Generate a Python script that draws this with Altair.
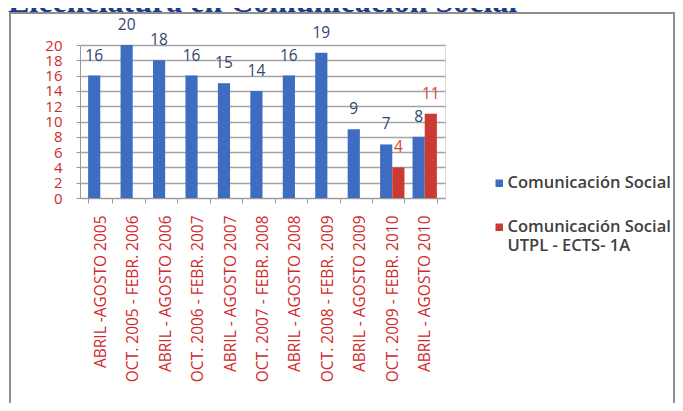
import altair as alt
import pandas as pd

title_text = ["Licenciatura en Comunicación Social"]
periods = [
    "ABRIL -AGOSTO 2005",
    "OCT. 2005 - FEBR. 2006",
    "ABRIL - AGOSTO 2006",
    "OCT. 2006 - FEBR. 2007",
    "ABRIL - AGOSTO 2007",
    "OCT. 2007 - FEBR. 2008",
    "ABRIL - AGOSTO 2008",
    "OCT. 2008 - FEBR. 2009",
    "ABRIL - AGOSTO 2009",
    "OCT. 2009 - FEBR. 2010",
    "ABRIL - AGOSTO 2010",
]
series_names = ["Comunicación Social", "Comunicación Social UTPL - ECTS- 1A"]
blue_values = [16, 20, 18, 16, 15, 14, 16, 19, 9, 7, 8]
red_values = [0, 0, 0, 0, 0, 0, 0, 0, 0, 4, 11]
y_ticks = list(range(0, 21, 2))

rows = []
for p, b, r in zip(periods, blue_values, red_values):
    rows.append({"periodo": p, "serie": series_names[0], "valor": b})
    rows.append({"periodo": p, "serie": series_names[1], "valor": r})
df = pd.DataFrame(rows)

BLUE = "#3d6cc0"
RED = "#cc3a33"
AXIS_RED = "#cf2b2b"
FONT = "Open Sans"

x_enc = alt.X(
    "periodo:N",
    sort=periods,
    scale=alt.Scale(paddingInner=0.25, paddingOuter=0.25),
    axis=alt.Axis(
        title=None,
        labelAngle=270,
        labelAlign="right",
        labelBaseline="middle",
        labelColor=AXIS_RED,
        labelFont=FONT,
        labelFontSize=15.5,
        labelPadding=12,
        labelLimit=300,
        tickColor="#9a9a9a",
        tickSize=5,
        tickBand="extent",
        domainColor="#9a9a9a",
        grid=False,
    ),
)
y_enc = alt.Y(
    "valor:Q",
    scale=alt.Scale(domain=[0, 20], nice=False),
    axis=alt.Axis(
        title=None,
        values=y_ticks,
        tickCount=11,
        labelColor=AXIS_RED,
        labelFont=FONT,
        labelFontSize=15,
        labelPadding=14,
        labelOverlap=False,
        labelFlush=False,
        tickColor="#9a9a9a",
        tickSize=4,
        domainColor="#9a9a9a",
        gridColor="#a3a3a3",
        gridWidth=1.5,
    ),
)
color_enc = alt.Color(
    "serie:N",
    scale=alt.Scale(domain=series_names, range=[BLUE, RED]),
    legend=alt.Legend(
        title=None,
        orient="none",
        legendX=407,
        legendY=130,
        symbolType="square",
        symbolSize=56,
        symbolStrokeWidth=0,
        symbolOffset=4,
        labelFont=FONT,
        labelFontSize=16.5,
        labelFontWeight=600,
        labelColor="#404040",
        labelLimit=300,
        labelOffset=0,
        rowPadding=27,
        labelExpr="indexof(datum.label, 'UTPL') > 0 ? ['Comunicación Social', 'UTPL - ECTS- 1A'] : datum.label",
    ),
)

bars = alt.Chart(df).mark_bar().encode(
    x=x_enc,
    xOffset=alt.XOffset("serie:N", sort=series_names),
    y=y_enc,
    color=color_enc,
)

labels = alt.Chart(df).transform_filter("datum.valor > 0").mark_text(
    dy=-20, font=FONT, fontSize=15.5
).encode(
    x=x_enc,
    xOffset=alt.XOffset("serie:N", sort=series_names),
    y=y_enc,
    text="valor:Q",
    color=alt.Color(
        "serie:N",
        scale=alt.Scale(domain=series_names, range=["#31466f", "#e0403a"]),
        legend=None,
    ),
)

frame = alt.Chart(pd.DataFrame({"f": [0]})).mark_rect(
    fill=None, stroke="#8e8e8e", strokeWidth=2
).encode(
    x=alt.value(-70),
    x2=alt.value(594),
    y=alt.value(-32),
    y2=alt.value(400),
)

title = alt.Chart(pd.DataFrame({"t": title_text})).mark_text(
    align="left",
    baseline="alphabetic",
    font="Liberation Serif",
    fontSize=32,
    fontWeight="bold",
    color="#1f3c88",
).encode(
    text="t:N",
    x=alt.value(-72),
    y=alt.value(-33),
)

chart = (
    alt.layer(frame, bars, labels, title)
    .resolve_scale(color="independent")
    .properties(
        width=365,
        height=153,
        padding={"left": 72, "top": 37, "right": 230, "bottom": 205},
        autosize=alt.AutoSizeParams(type="none"),
    )
    .configure_view(fill="#e8e8e8", stroke=None)
    .configure(background="white")
)

chart.save("out.html", embed_options={"renderer": "svg", "actions": False})
